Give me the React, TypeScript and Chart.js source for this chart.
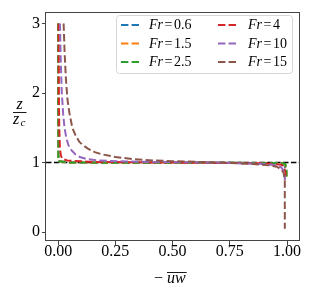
import React, { useEffect, useRef } from "react";
import { Chart, registerables } from "chart.js";
Chart.register(...registerables);

const frLabels = ["0.6", "1.5", "2.5", "4", "10", "15"];
const colors = ["#1f77b4", "#ff7f0e", "#2ca02c", "#d62728", "#9467bd", "#8c564b"];
const xTicks = [0, 0.25, 0.5, 0.75, 1];
const yTicks = [0, 1, 2, 3];
const xLimits = [-0.053, 1.052];
const yLimits = [-0.127, 3.17];
const refLineZ = 1;

// Fr = 0.6
const fr06Z = [3, 1.02, 1.0, 0.995, 0.98, 0.9, 0.8];
const fr06X = [0, 0.001, 0.05, 0.96, 0.985, 0.995, 0.995];
// Fr = 1.5
const fr15Z = [3, 1.02, 1.0, 0.995, 0.98, 0.9, 0.8];
const fr15X = [0, 0.001, 0.05, 0.965, 0.99, 0.997, 0.997];
// Fr = 2.5
const fr25Z = [3, 1.02, 1.0, 0.995, 0.98, 0.9, 0.8];
const fr25X = [0, 0.001, 0.05, 0.97, 0.993, 0.998, 0.998];
// Fr = 4
const fr4Z = [3, 2, 1.5, 1.2, 1.1, 1.05, 1.03, 1.01, 1.0, 0.99, 0.97, 0.93, 0.85, 0.78];
const fr4X = [0.002, 0.003, 0.005, 0.008, 0.012, 0.02, 0.04, 0.15, 0.5, 0.9, 0.975, 0.988, 0.993, 0.993];
// Fr = 10
const fr10Z = [3, 2.4, 2.0, 1.7, 1.5, 1.35, 1.25, 1.18, 1.12, 1.08, 1.05, 1.03, 1.02, 1.01, 1.0, 0.98, 0.96, 0.93, 0.88, 0.8, 0.75];
const fr10X = [0.008, 0.012, 0.016, 0.022, 0.028, 0.036, 0.045, 0.058, 0.075, 0.095, 0.125, 0.18, 0.26, 0.4, 0.7, 0.9, 0.955, 0.975, 0.985, 0.99, 0.99];
// Fr = 15
const fr15bZ = [3.0, 2.6, 2.2, 1.9, 1.7, 1.5, 1.4, 1.3, 1.26, 1.2, 1.15, 1.12, 1.08, 1.05, 1.03, 1.02, 1.0, 0.98, 0.96, 0.94, 0.9, 0.85, 0.75, 0.5, 0.25, 0.05];
const fr15bX = [0.024, 0.028, 0.034, 0.041, 0.05, 0.062, 0.075, 0.092, 0.105, 0.13, 0.16, 0.19, 0.25, 0.33, 0.42, 0.5, 0.72, 0.85, 0.92, 0.955, 0.975, 0.985, 0.99, 0.99, 0.99, 0.99];

const seriesX = [fr06X, fr15X, fr25X, fr4X, fr10X, fr15bX];
const seriesZ = [fr06Z, fr15Z, fr25Z, fr4Z, fr10Z, fr15bZ];

const SERIF = "'Liberation Serif', 'DejaVu Serif', serif";

const decorPlugin = {
  id: "decor",
  afterDraw(chart: any) {
    const ctx = chart.ctx;
    const a = chart.chartArea;
    ctx.save();
    // frame
    ctx.strokeStyle = "#444";
    ctx.lineWidth = 1;
    ctx.strokeRect(Math.round(a.left) - 0.5, Math.round(a.top) + 0.5, Math.round(a.right - a.left) + 1, Math.round(a.bottom - a.top) - 1);

    // legend box
    const bx = 116.5, by = 15.5, bw = 176, bh = 58;
    ctx.beginPath();
    (ctx as any).roundRect(bx, by, bw, bh, 3);
    ctx.fillStyle = "rgba(255,255,255,0.8)";
    ctx.fill();
    ctx.strokeStyle = "#d6d6d6";
    ctx.lineWidth = 1;
    ctx.stroke();

    const rowsY = [25, 43.5, 62];
    const colDash = [121, 218];
    const colText = [149, 248];
    for (let i = 0; i < frLabels.length; i++) {
      const col = i < 3 ? 0 : 1;
      const row = i % 3;
      const y = rowsY[row];
      ctx.beginPath();
      ctx.setLineDash([7.4, 3.2]);
      ctx.strokeStyle = colors[i];
      ctx.lineWidth = 2;
      ctx.moveTo(colDash[col], y);
      ctx.lineTo(colDash[col] + 19, y);
      ctx.stroke();
      ctx.setLineDash([]);
      ctx.fillStyle = "#000";
      ctx.textBaseline = "middle";
      ctx.textAlign = "left";
      let x = colText[col];
      ctx.font = `italic 14px ${SERIF}`;
      ctx.fillText("Fr", x, y + 0.5);
      x += ctx.measureText("Fr").width + 1.5;
      ctx.font = `14px ${SERIF}`;
      ctx.fillText("=", x, y + 0.5);
      x += ctx.measureText("=").width + 1.5;
      ctx.fillText(frLabels[i], x, y + 0.5);
    }

    // x label: − overline{uw}
    ctx.fillStyle = "#000";
    ctx.textBaseline = "alphabetic";
    ctx.textAlign = "left";
    ctx.font = `16px ${SERIF}`;
    ctx.fillText("\u2212", 154, 283);
    ctx.font = `italic 16px ${SERIF}`;
    const uw = "uw";
    const uwx = 167;
    ctx.fillText(uw, uwx, 283);
    const uww = ctx.measureText(uw).width;
    ctx.beginPath();
    ctx.strokeStyle = "#000";
    ctx.lineWidth = 0.9;
    ctx.moveTo(uwx, 272.5);
    ctx.lineTo(uwx + uww + 1, 272.5);
    ctx.stroke();

    // y label: z / z_c
    ctx.textAlign = "center";
    ctx.font = `italic 16px ${SERIF}`;
    ctx.fillText("z", 19.5, 108.5);
    ctx.beginPath();
    ctx.lineWidth = 0.9;
    ctx.moveTo(13, 112.5);
    ctx.lineTo(26.5, 112.5);
    ctx.stroke();
    ctx.textAlign = "left";
    ctx.fillText("z", 13, 123.5);
    ctx.font = `italic 11px ${SERIF}`;
    ctx.fillText("c", 20.5, 126);
    ctx.restore();
  },
};

export default function App() {
  const ref = useRef<HTMLCanvasElement | null>(null);
  useEffect(() => {
    if (!ref.current) return;
    const curves = seriesX.map((xs, i) => ({
      label: "Fr=" + frLabels[i],
      data: xs.map((x, j) => ({ x, y: seriesZ[i][j] })),
      borderColor: colors[i],
      backgroundColor: colors[i],
      borderWidth: 2,
      borderDash: [7.4, 3.2],
      pointRadius: 0,
      showLine: true,
      fill: false,
      tension: 0,
    }));
    const refLine = {
      label: "ref",
      data: [
        { x: xLimits[0], y: refLineZ },
        { x: xLimits[1], y: refLineZ },
      ],
      borderColor: "#000",
      backgroundColor: "#000",
      borderWidth: 1.5,
      borderDash: [5.5, 2.4],
      pointRadius: 0,
      showLine: true,
      fill: false,
    };
    // first dataset drawn on top in Chart.js -> reverse order
    const datasets = [...curves].reverse().concat([refLine as any]);
    const tickFont = { family: SERIF, size: 16, lineHeight: 0.75 };
    const chart = new Chart(ref.current, {
      type: "scatter",
      data: { datasets },
      options: {
        animation: false,
        responsive: false,
        maintainAspectRatio: false,
        layout: { padding: { top: 8, right: 13, left: 0, bottom: 0 } },
        plugins: { legend: { display: false }, tooltip: { enabled: false }, title: { display: false } },
        scales: {
          x: {
            type: "linear",
            min: xLimits[0],
            max: xLimits[1],
            afterBuildTicks: (s: any) => {
              s.ticks = xTicks.map((v) => ({ value: v }));
            },
            afterFit: (s: any) => {
              s.height = 47;
            },
            ticks: {
              callback: (v: any) => Number(v).toFixed(2),
              color: "#000",
              font: tickFont,
              padding: 1,
              maxRotation: 0,
              autoSkip: false,
            },
            grid: { display: true, drawOnChartArea: false, drawTicks: true, tickLength: 4, color: "#444", tickWidth: 1 },
            border: { display: false },
          },
          y: {
            type: "linear",
            min: yLimits[0],
            max: yLimits[1],
            afterBuildTicks: (s: any) => {
              s.ticks = yTicks.map((v) => ({ value: v }));
            },
            afterFit: (s: any) => {
              s.width = 46;
            },
            ticks: {
              callback: (v: any) => String(v),
              color: "#000",
              font: { family: SERIF, size: 16 },
              padding: 2,
              autoSkip: false,
            },
            grid: { display: true, drawOnChartArea: false, drawTicks: true, tickLength: 4, color: "#444", tickWidth: 1 },
            border: { display: false },
          },
        },
      },
      plugins: [decorPlugin],
    });
    return () => chart.destroy();
  }, []);
  return (
    <div style={{ position: "fixed", left: 0, top: 0, width: 312, height: 288, background: "#fff" }}>
      <canvas ref={ref} width={312} height={288} style={{ width: 312, height: 288, display: "block" }} />
    </div>
  );
}
